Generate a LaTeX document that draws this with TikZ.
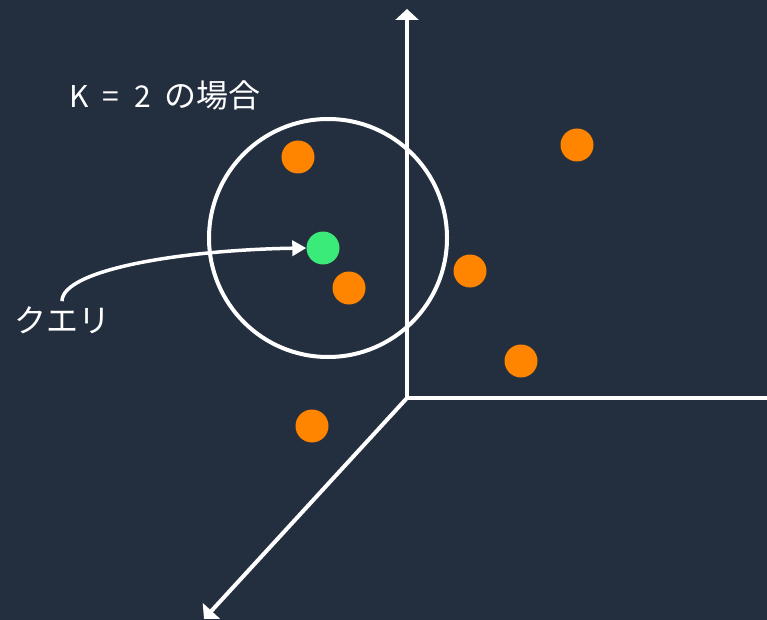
\documentclass[tikz,border=0pt]{standalone}
\usepackage{fontspec}
\setmainfont{Noto Sans CJK JP}
\usetikzlibrary{arrows.meta}
\definecolor{bg}{HTML}{232E3F}
\definecolor{dotorange}{HTML}{FF8500}
\definecolor{dotgreen}{HTML}{3BEB7A}
\tikzset{
  axis/.style={white, line width=4pt, -{Triangle[length=11pt,width=23pt]}},
  odot/.style={circle, fill=dotorange, minimum size=33pt, inner sep=0pt},
  gdot/.style={circle, fill=dotgreen, minimum size=33pt, inner sep=0pt},
  lbl/.style={text=white, font=\fontsize{32}{36}\selectfont, inner sep=0pt},
}
\newcommand{\latinpart}[1]{{\fontsize{30}{34}\selectfont #1}}
\begin{document}
\begin{tikzpicture}[x=1pt,y=-1pt]
\useasboundingbox (0,0) rectangle (767,620);
\fill[bg] (0,0) rectangle (767,620);
% axes
\coordinate (o) at (407,398);
\coordinate (ytop) at (407,9);
\coordinate (xend) at (770,398);
\coordinate (zend) at (204,619);
\draw[axis] (o) -- (ytop);
\draw[white, line width=4pt] (o) -- (xend);
\draw[axis] (o) -- (zend);
% neighbourhood circle
\node[draw=white, line width=4pt, circle, minimum size=238pt, inner sep=0pt] (ring) at (328,238) {};
% points
\node[odot] (p1) at (298,157) {};
\node[odot] (p2) at (577,145) {};
\node[odot] (p3) at (470,271) {};
\node[odot] (p4) at (349,288) {};
\node[odot] (p5) at (521,361) {};
\node[odot] (p6) at (312,426) {};
\node[gdot] (q) at (323,248) {};
% labels
\node[lbl] (title) at (165,95) {\latinpart{K\hspace{14pt}=\hspace{15pt}2}\hspace{14pt}の場合};
\node[lbl] (query) at (62,320) {クエリ};
\draw[white, line width=3.5pt, -{Triangle[length=14pt,width=15pt]}]
  ([yshift=5pt]query.north) .. controls (62,270) and (180,250) .. (q.west);
\end{tikzpicture}
\end{document}
